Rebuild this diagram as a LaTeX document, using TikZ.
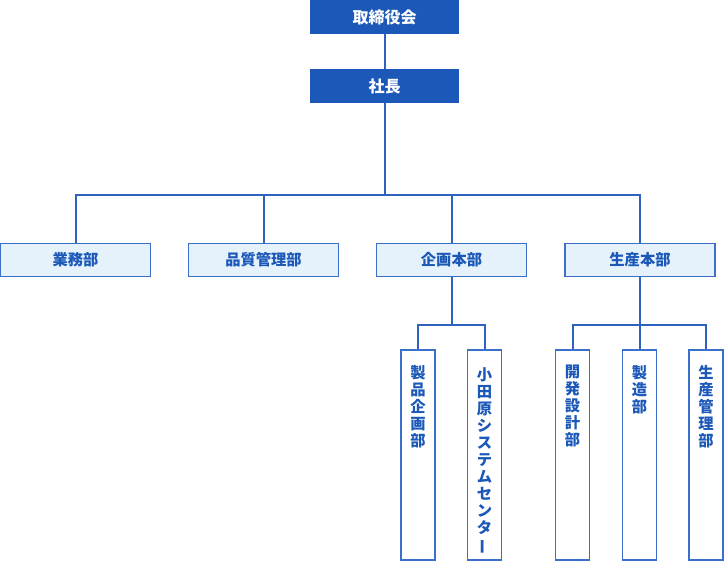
\documentclass[tikz,border=0pt]{standalone}
\usepackage{fontspec}
\setmainfont{Noto Sans CJK JP}
\definecolor{darkblue}{HTML}{1B58B8}
\definecolor{lightfill}{HTML}{E5F1FB}
\definecolor{edgeblue}{HTML}{3A70C9}
\definecolor{lineblue}{HTML}{2D62C0}
\begin{document}
\begin{tikzpicture}[x=1pt,y=-1pt,
  topbox/.style={rectangle, fill=darkblue, draw=none, minimum width=149pt, minimum height=34pt, inner sep=0pt, text=white, font=\bfseries\fontsize{16}{18}\selectfont},
  midbox/.style={rectangle, fill=lightfill, draw=edgeblue, line width=1.5pt, minimum width=150pt, minimum height=33pt, inner sep=0pt, text=darkblue, font=\bfseries\fontsize{15.3}{17}\selectfont},
  tallbox/.style={rectangle, fill=white, draw=edgeblue, line width=1.5pt, minimum width=34pt, minimum height=210pt, inner sep=0pt},
  vtext/.style={anchor=north, inner sep=0pt, align=center, text=darkblue, font=\bfseries\fontsize{15.3}{17}\selectfont},
  conn/.style={draw=lineblue, line width=2pt}
]
\useasboundingbox (0,0) rectangle (725,560);
\node[topbox] (board) at (384.5,17) {取締役会};
\node[topbox] (pres) at (384.5,86) {社長};
\node[midbox] (gyomu) at (75.5,260) {業務部};
\node[midbox] (hinshitsu) at (263.5,260) {品質管理部};
\node[midbox] (kikaku) at (451.5,260) {企画本部};
\node[midbox] (seisan) at (640,260) {生産本部};
\node[tallbox] (seihin) at (418,455) {};
\node[tallbox] (odawara) at (484.5,455) {};
\node[tallbox] (kaihatsu) at (572.5,455) {};
\node[tallbox] (seizo) at (639.5,455) {};
\node[tallbox] (kanri) at (706,455) {};
\node[vtext] (t1) at (418,365) {製\\品\\企\\画\\部};
\node[vtext] (t2) at (484.5,367) {小\\田\\原\\シ\\ス\\テ\\ム\\セ\\ン\\タ\\\rotatebox[origin=c]{90}{ー}};
\node[vtext] (t3) at (572.5,365) {開\\発\\設\\計\\部};
\node[vtext] (t4) at (639.5,365) {製\\造\\部};
\node[vtext] (t5) at (706,365) {生\\産\\管\\理\\部};
\coordinate (j1) at (384.5,195);
\coordinate (j2) at (451.5,325);
\coordinate (j3) at (640,325);
\draw[conn] (board) -- (pres);
\draw[conn] (pres) -- (j1);
\draw[conn] (gyomu.north) |- (j1);
\draw[conn] (hinshitsu.north) |- (j1);
\draw[conn] (kikaku.north) |- (j1);
\draw[conn] (seisan.north) |- (j1);
\draw[conn] (kikaku) -- (j2);
\draw[conn] (seihin.north) |- (j2);
\draw[conn] (odawara.north) |- (j2);
\draw[conn] (seisan) -- (j3);
\draw[conn] (kaihatsu.north) |- (j3);
\draw[conn] (seizo.north) |- (j3);
\draw[conn] (kanri.north) |- (j3);
\end{tikzpicture}
\end{document}
